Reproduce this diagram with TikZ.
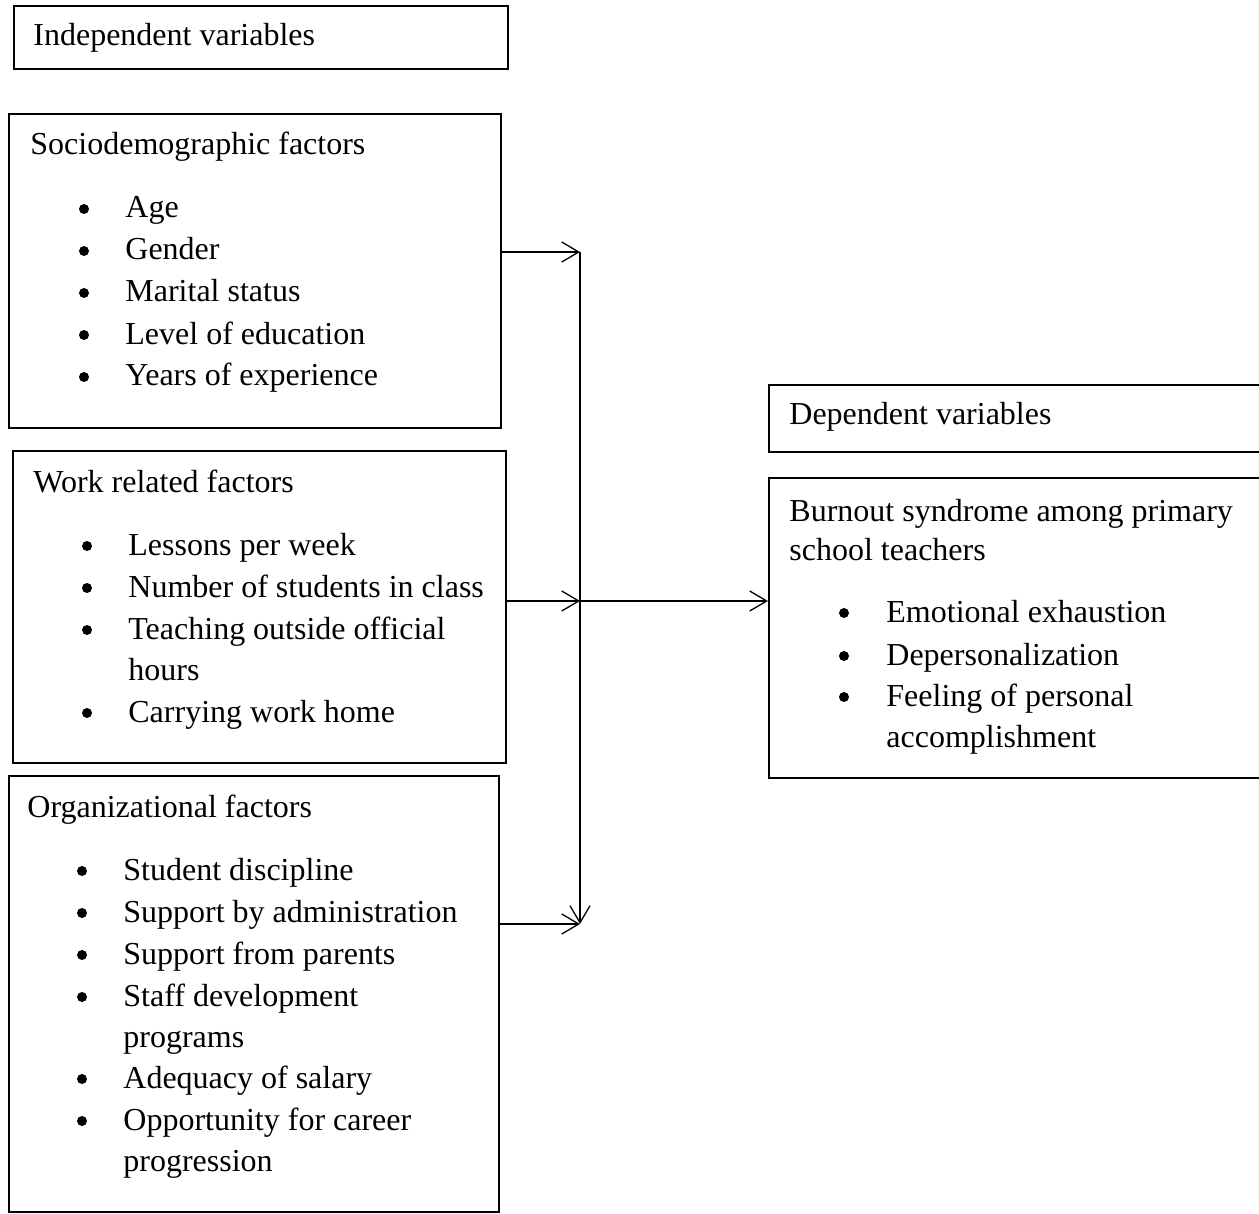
\documentclass[tikz,border=0pt]{standalone}
\usepackage{fontspec}
\setmainfont{Liberation Serif}
\usetikzlibrary{arrows.meta}
\begin{document}
\begin{tikzpicture}[x=0.5pt,y=-0.5pt,
  box/.style={draw, line width=1pt, inner sep=0pt, anchor=north west},
  txt/.style={anchor=base west, inner sep=0pt, font=\fontsize{16}{19}\selectfont},
  bul/.style={circle, fill, inner sep=0pt, minimum size=5pt},
  conn/.style={line width=0.65pt},
  arr/.style={conn, -{Straight Barb[length=8.5pt,width=10pt]}}]
\useasboundingbox (0,0) rectangle (1259,1214);
\clip (0,0) rectangle (1259,1214);
% boxes
\node[box, minimum width=247pt, minimum height=31.5pt] (indep) at (13,5) {};
\node[box, minimum width=246pt, minimum height=157pt] (socio) at (8,113) {};
\node[box, minimum width=246.5pt, minimum height=156pt] (work) at (12,450) {};
\node[box, minimum width=245pt, minimum height=218pt] (org) at (8,775) {};
\node[box, minimum width=300pt, minimum height=33.5pt] (dep) at (768,384) {};
\node[box, minimum width=300pt, minimum height=150pt] (burn) at (768,477) {};
% texts
\node[txt] (tindep) at (33,46) {Independent variables};
\node[txt] (tsocio) at (30,155) {Sociodemographic factors};
\foreach \y/\t [count=\i] in {218/Age,260/Gender,302/Marital status,344/Level of education,386/Years of experience}{
  \node[bul] (sb\i) at (84,\y-9) {};
  \node[txt] (st\i) at (125,\y) {\t};
}
\node[txt] (twork) at (33,492) {Work related factors};
\foreach \y/\t [count=\i] in {555/Lessons per week,597/Number of students in class,639/Teaching outside official,722/Carrying work home}{
  \node[bul] (wb\i) at (87,\y-9) {};
  \node[txt] (wt\i) at (128,\y) {\t};
}
\node[txt] (wt3b) at (128,680) {hours};
\node[txt] (torg) at (27,817) {Organizational factors};
\foreach \y/\t [count=\i] in {880/Student discipline,922/Support by administration,964/Support from parents,1006/Staff development,1088/Adequacy of salary,1130/Opportunity for career}{
  \node[bul] (ob\i) at (82,\y-9) {};
  \node[txt] (ot\i) at (123,\y) {\t};
}
\node[txt] (ot4b) at (123,1047) {programs};
\node[txt] (ot6b) at (123,1171) {progression};
\node[txt] (tdep) at (789,424) {Dependent variables};
\node[txt] (tburn1) at (789,521) {Burnout syndrome among primary};
\node[txt] (tburn2) at (789,560) {school teachers};
\foreach \y/\t [count=\i] in {622/Emotional exhaustion,665/Depersonalization,706/Feeling of personal}{
  \node[bul] (bb\i) at (844,\y-9) {};
  \node[txt] (bt\i) at (886,\y) {\t};
}
\node[txt] (bt3b) at (886,747) {accomplishment};
% connectors
\coordinate (jtop) at (580,252);
\coordinate (jmid) at (580,601);
\coordinate (jbot) at (580,924);
\draw[arr] (socio.east |- jtop) -- (jtop);
\draw[conn] (jtop) -- (jmid);
\draw[arr] (jmid) -- (jbot);
\draw[arr] (work.east |- jmid) -- (jmid);
\draw[arr] (org.east |- jbot) -- (jbot);
\draw[arr] (jmid) -- (burn.west |- jmid);
\end{tikzpicture}
\end{document}
